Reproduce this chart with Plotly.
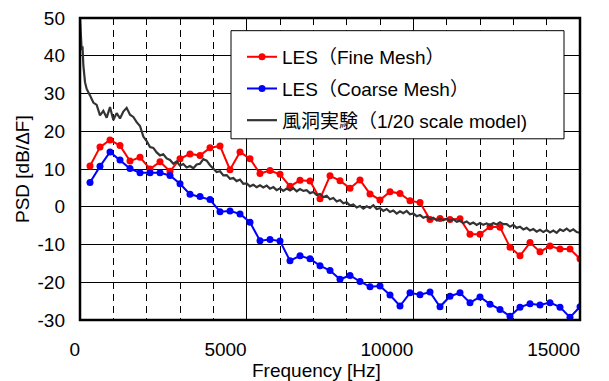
import plotly.graph_objects as go

# ---- data ----
les_freq = [300, 600, 900, 1200, 1500, 1800, 2100, 2400, 2700, 3000,
            3300, 3600, 3900, 4200, 4500, 4800, 5100, 5400, 5700, 6000,
            6300, 6600, 6900, 7200, 7500, 7800, 8100, 8400, 8700, 9000,
            9300, 9600, 9900, 10200, 10500, 10800, 11100, 11400, 11700, 12000,
            12300, 12600, 12900, 13200, 13500, 13800, 14100, 14400, 14700, 15000]

les_fine = [10.8, 15.8, 17.7, 16.2, 12.1, 13.1, 10.0, 11.9, 9.4, 12.7,
            14.0, 13.6, 15.6, 16.1, 9.8, 14.5, 12.7, 8.8, 9.6, 8.6,
            5.4, 7.0, 6.8, 2.1, 8.2, 6.9, 4.9, 7.1, 3.4, 1.8,
            4.0, 3.5, 1.6, 1.1, -3.4, -3.1, -3.4, -3.2, -7.3, -7.3,
            -5.3, -5.4, -10.7, -13.0, -9.5, -11.9, -10.4, -11.2, -11.2, -13.8]

les_coarse = [6.4, 10.7, 14.5, 12.4, 10.1, 9.0, 9.0, 9.0, 8.3, 6.1,
              3.3, 2.7, 1.9, -1.3, -1.1, -1.9, -4.1, -9.0, -8.7, -9.1,
              -14.3, -13.0, -13.8, -15.6, -16.9, -19.2, -18.2, -19.8, -21.2, -21.0,
              -23.4, -26.3, -22.8, -23.3, -22.6, -26.5, -23.7, -22.8, -25.4, -23.9,
              -25.8, -27.2, -29.0, -26.6, -25.7, -26.0, -25.4, -26.6, -29.3, -26.5]

exp_freq = [0, 25, 50, 75, 100, 150] + list(range(200, 15001, 100))
exp_psd = [50.0, 46.0, 41.5, 42.5, 37.5, 33.0,
           31.2, 29.5, 27.6, 27.0, 24.2, 25.4, 23.6, 26.4, 23.0, 24.8,
           23.4, 25.2, 26.2, 24.4, 23.8, 22.4, 21.4, 18.6, 17.4, 15.8,
           15.6, 14.4, 13.6, 13.9, 12.8, 12.4, 11.4, 12.0, 10.9, 11.3,
           10.4, 10.8, 10.2, 11.2, 11.4, 12.6, 12.2, 11.0, 10.2, 9.2,
           9.4, 8.3, 8.4, 7.4, 7.6, 6.8, 7.2, 6.1, 6.2, 5.4,
           5.8, 5.2, 5.7, 5.1, 5.6, 4.8, 5.2, 4.4, 4.9, 4.2,
           4.8, 4.3, 4.9, 4.1, 4.7, 4.2, 4.4, 3.6, 3.9, 3.1,
           3.4, 2.6, 2.9, 2.0, 2.3, 1.4, 1.8, 0.9, 1.2, 0.3,
           0.6, -0.2, 0.2, -0.5, 0.1, -0.3, 0.4, -0.6, -0.4, -1.1,
           -0.6, -1.4, -1.0, -1.8, -1.2, -1.7, -1.1, -2.0, -1.8, -2.5,
           -2.2, -2.9, -2.6, -3.3, -2.9, -3.6, -3.1, -3.6, -3.2, -3.7,
           -3.3, -4.0, -3.7, -4.3, -3.9, -4.6, -4.2, -4.8, -4.3, -4.8,
           -4.4, -4.9, -4.3, -4.7, -4.1, -4.6, -4.6, -5.3, -4.8, -5.6,
           -5.3, -6.0, -5.6, -6.3, -5.9, -6.6, -6.1, -6.7, -6.2, -6.8,
           -6.3, -6.9, -6.0, -6.4, -5.8, -6.5, -6.0, -6.7, -6.9]

x_ticks = [0, 5000, 10000, 15000]
y_ticks = [50, 40, 30, 20, 10, 0, -10, -20, -30]

names = ["LES（Fine Mesh）", "LES（Coarse Mesh）", "風洞実験（1/20 scale model)"]

FONT = "Liberation Sans, Arial, Noto Sans CJK JP, sans-serif"

fig = go.Figure()
fig.add_trace(go.Scatter(x=les_freq, y=les_fine, mode="lines+markers", name=names[0],
                         legendgroup="a",
                         line=dict(color="#FF0000", width=2),
                         marker=dict(color="#FF0000", size=7)))
fig.add_trace(go.Scatter(x=les_freq, y=les_coarse, mode="lines+markers", name=names[1],
                         legendgroup="b",
                         line=dict(color="#0000FF", width=2),
                         marker=dict(color="#0000FF", size=7)))
fig.add_trace(go.Scatter(x=exp_freq, y=exp_psd, mode="lines", name=names[2],
                         legendgroup="c",
                         line=dict(color="#333333", width=2.2)))

fig.update_layout(
    width=609, height=381,
    margin=dict(l=80, r=29, t=18, b=61, autoexpand=False),
    paper_bgcolor="white", plot_bgcolor="white",
    font=dict(family=FONT, size=19, color="black"),
    showlegend=True,
    legend=dict(x=0.324, y=0.934, xanchor="left", yanchor="top",
                bgcolor="rgba(0,0,0,0)", borderwidth=0,
                font=dict(family=FONT, size=19, color="black"),
                traceorder="grouped", tracegroupgap=4,
                itemwidth=30),
    shapes=[
        dict(type="rect", xref="paper", yref="paper",
             x0=0.302, x1=0.968, y0=0.600, y1=0.958,
             line=dict(color="black", width=1), fillcolor="white",
             layer="above"),
        dict(type="rect", xref="paper", yref="paper",
             x0=0, x1=1, y0=0, y1=1,
             line=dict(color="black", width=2.5), fillcolor="rgba(0,0,0,0)",
             layer="above"),
    ],
    xaxis=dict(range=[0, 15000], tickvals=x_ticks, ticktext=[str(v) for v in x_ticks],
               showline=False,
               showgrid=True, gridcolor="black", gridwidth=1,
               zeroline=False, ticks="", ticklabelstandoff=16,
               ticklabelposition="outside left",
               tickfont=dict(size=19),
               minor=dict(dtick=1000, showgrid=True, gridcolor="black",
                          gridwidth=1, griddash="7px,5px")),
    yaxis=dict(range=[-30, 50], tickvals=y_ticks, ticktext=[str(v) for v in y_ticks],
               showline=False,
               showgrid=True, gridcolor="black", gridwidth=1,
               zeroline=False, ticks="", ticklabelstandoff=14,
               tickfont=dict(size=19)),
    annotations=[
        dict(text="Frequency [Hz]", xref="paper", yref="paper", x=0.472, y=-0.168,
             xanchor="center", yanchor="middle", showarrow=False,
             font=dict(size=19)),
        dict(text="PSD [dB/ΔF]", xref="paper", yref="paper", x=-0.116, y=0.50,
             xanchor="center", yanchor="middle", showarrow=False, textangle=-90,
             font=dict(size=19)),
    ],
)

fig.write_html("out.html")
